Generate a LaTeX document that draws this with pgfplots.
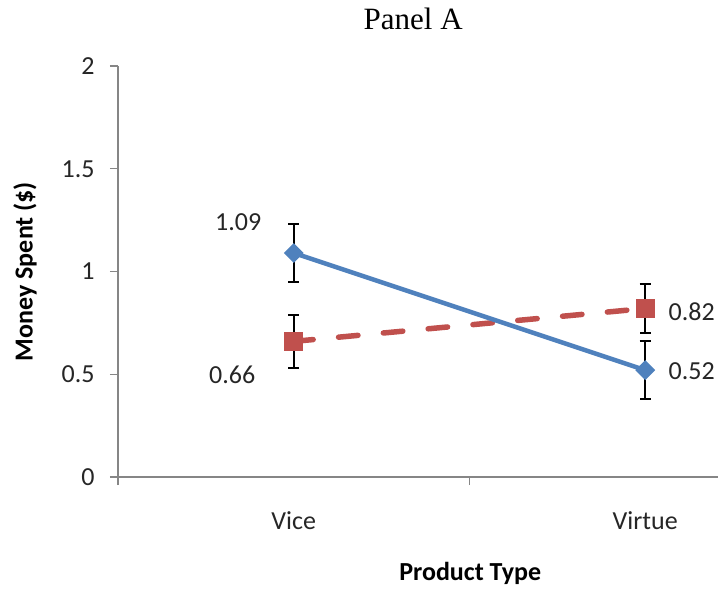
\documentclass[border=0pt]{standalone}
\usepackage{fontspec}
\setmainfont{Carlito}
\newfontfamily\timesfont{Liberation Serif}
\usepackage{pgfplots}
\pgfplotsset{compat=1.18}
\definecolor{cblue}{HTML}{4F81BD}
\definecolor{cred}{HTML}{C0504D}
\definecolor{axgray}{HTML}{868686}
\begin{document}
\begin{tikzpicture}
\path[use as bounding box] (-59pt,-57pt) rectangle (300pt,238.5pt);
\begin{axis}[
  at={(0,0)}, anchor=south west,
  scale only axis, width=300pt, height=205.5pt,
  xmin=-0.5, xmax=1.207, ymin=0, ymax=2,
  axis x line=bottom, axis y line=left,
  axis line style={axgray, line width=0.6pt, -},
  tick style={axgray, line width=0.6pt},
  tick align=outside, major tick length=4pt,
  xtick={-0.5,0.5}, xticklabels={,},
  extra x ticks={0,1}, extra x tick labels={Vice,Virtue},
  extra x tick style={major tick length=0pt},
  xticklabel style={anchor=base, yshift=-26pt},
  ytick={0,0.5,1,1.5,2},
  yticklabel style={anchor=east, inner sep=0pt, xshift=-7.5pt},
  /pgf/number format/assume math mode=true,
  tick label style={font=\fontsize{13}{15}\selectfont, text=black!85},
  clip=false,
]
\addplot[cred, line width=2.75pt, line cap=round, dash pattern=on 9.75pt off 12.75pt,
  mark=square*, mark size=3.4pt, mark options={solid, fill=cred, draw=none},
  error bars/.cd, y dir=both, y explicit, error mark=|,
  error bar style={solid, black, line width=1.1pt, line cap=butt},
  error mark options={solid, black, line width=1.1pt, mark size=2.75pt}]
  coordinates {(0,0.66) +- (0,0.13) (1,0.82) +- (0,0.12)};
\addplot[cblue, line width=2.25pt,
  mark=square*, mark size=2.4pt, mark options={rotate=45, fill=cblue, draw=none},
  error bars/.cd, y dir=both, y explicit, error mark=|,
  error bar style={solid, black, line width=1.1pt},
  error mark options={solid, black, line width=1.1pt, mark size=2.75pt}]
  coordinates {(0,1.09) +- (0,0.14) (1,0.52) +- (0,0.14)};
\node[font=\fontsize{13}{15}\selectfont, text=black!85, anchor=center, inner sep=0pt] at (axis cs:-0.158,1.238) {1.09};
\node[font=\fontsize{13}{15}\selectfont, text=black!85, anchor=center, inner sep=0pt] at (axis cs:-0.175,0.499) {0.66};
\node[font=\fontsize{13}{15}\selectfont, text=black!85, anchor=center, inner sep=0pt] at (axis cs:1.132,0.805) {0.82};
\node[font=\fontsize{13}{15}\selectfont, text=black!85, anchor=center, inner sep=0pt] at (axis cs:1.132,0.513) {0.52};
\node[font=\timesfont\fontsize{15.5}{18}\selectfont, anchor=base] at (rel axis cs:0.492,1.090) {Panel A};
\node[font=\bfseries\fontsize{13}{15}\selectfont, anchor=base] at (rel axis cs:0.587,-0.253) {Product Type};
\node[font=\bfseries\fontsize{13}{15}\selectfont, rotate=90, anchor=center] at (rel axis cs:-0.155,0.5) {Money Spent (\$)};
\end{axis}
\end{tikzpicture}
\end{document}
